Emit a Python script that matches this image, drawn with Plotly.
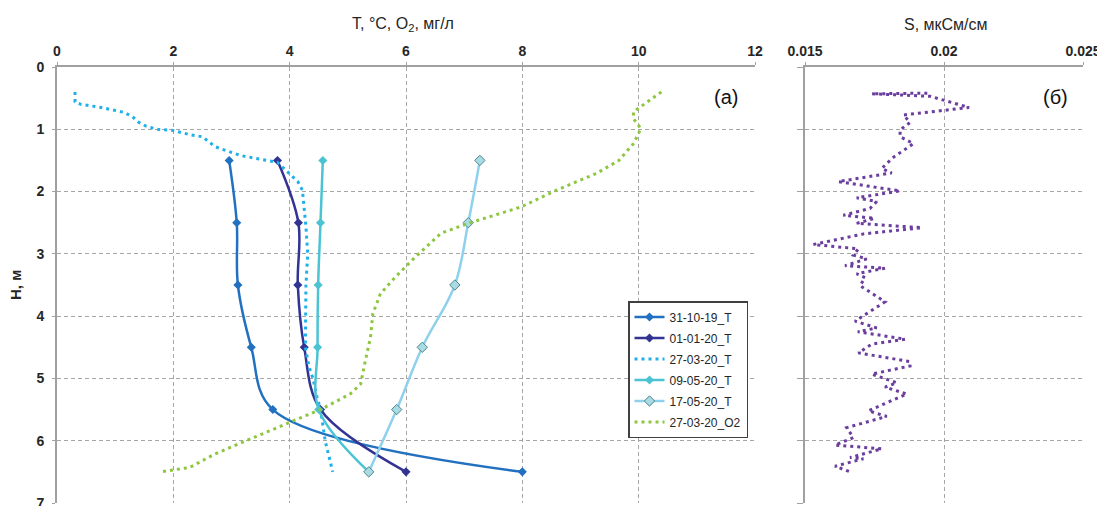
import plotly.graph_objects as go

# ---------------- data ----------------
depth_std = [1.5, 2.5, 3.5, 4.5, 5.5, 6.5]
t_311019 = [2.96, 3.09, 3.11, 3.34, 3.71, 8.00]
t_010120 = [3.79, 4.15, 4.14, 4.25, 4.53, 6.00]
t_090520 = [4.57, 4.53, 4.49, 4.48, 4.50, 5.36]
t_170520 = [7.27, 7.07, 6.84, 6.28, 5.84, 5.36]

t_270320_x = [0.31, 0.31, 0.41, 0.76, 1.16, 1.30, 1.39, 1.53, 1.73, 2.00, 2.30, 2.50,
              2.72, 3.15, 3.79, 4.14, 4.22, 4.28, 4.31, 4.28, 4.27, 4.33, 4.40, 4.47,
              4.53, 4.61, 4.74]
t_270320_h = [0.40, 0.56, 0.60, 0.65, 0.73, 0.80, 0.88, 0.95, 1.00, 1.02, 1.09, 1.12,
              1.28, 1.42, 1.53, 1.84, 1.98, 2.57, 3.00, 3.50, 4.50, 4.80, 5.00, 5.30,
              5.50, 6.00, 6.50]

o2_270320_x = [10.39, 9.91, 9.91, 10.04, 9.91, 9.66, 9.27, 8.58, 7.97, 7.07, 6.60, 6.16,
               5.82, 5.56, 5.43, 5.39, 5.30, 5.22, 5.04, 4.53, 4.09, 3.32, 2.72, 2.28, 1.77]
o2_270320_h = [0.40, 0.72, 0.83, 0.99, 1.23, 1.50, 1.71, 1.98, 2.25, 2.51, 2.67, 3.05,
               3.37, 3.64, 3.96, 4.34, 4.72, 5.09, 5.25, 5.50, 5.67, 5.97, 6.21, 6.43, 6.50]

s_h = [0.42, 0.43, 0.47, 0.65, 0.77, 0.89, 1.01, 1.12, 1.23, 1.34, 1.45, 1.55, 1.63,
       1.70, 1.84, 1.99, 2.10, 2.16, 2.27, 2.38, 2.43, 2.51, 2.58, 2.68, 2.85, 2.92,
       3.02, 3.08, 3.19, 3.23, 3.32, 3.38, 3.51, 3.77, 3.92, 4.08, 4.19, 4.25, 4.37,
       4.45, 4.59, 4.73, 4.80, 4.93, 5.07, 5.14, 5.25, 5.52, 5.61, 5.79, 5.95, 6.07,
       6.13, 6.27, 6.29, 6.41, 6.51]
s_val = [0.0194, 0.0174, 0.0195, 0.0209, 0.01854, 0.01878, 0.01842, 0.01842, 0.0189,
         0.01854, 0.01818, 0.01794, 0.01776, 0.01812, 0.0162, 0.01842, 0.01686, 0.01758,
         0.01734, 0.01638, 0.0175, 0.01686, 0.0192, 0.0171, 0.0153, 0.01692, 0.01674,
         0.01722, 0.01644, 0.01788, 0.01686, 0.01716, 0.01698, 0.01788, 0.01734, 0.0168,
         0.01758, 0.0169, 0.0186, 0.0174, 0.01692, 0.01878, 0.01878, 0.0174, 0.0183,
         0.01788, 0.01866, 0.01728, 0.01794, 0.0165, 0.01674, 0.01608, 0.01776, 0.01662,
         0.0171, 0.01608, 0.01668]

t_ticks = [0, 2, 4, 6, 8, 10, 12]
s_ticks = [0.015, 0.02, 0.025]
s_ticktext = ["0.015", "0.02", "0.025"]
h_ticks = [0, 1, 2, 3, 4, 5, 6, 7]

# ---------------- figure ----------------
FONT = "Liberation Sans, Arial, sans-serif"
W, H = 1105, 506
OFF = 8  # page body margin offset


def px_x(p):
    return (p - OFF) / W


def px_y(p):
    return 1 - (p - OFF) / H


fig = go.Figure()

fig.add_trace(go.Scatter(x=t_311019, y=depth_std, name="31-10-19_T", mode="lines+markers",
                         legendgroup="g1",
                         line=dict(color="#2270c0", width=2.5, shape="spline"),
                         marker=dict(symbol="diamond", size=7, color="#2270c0")))
fig.add_trace(go.Scatter(x=t_010120, y=depth_std, name="01-01-20_T", mode="lines+markers",
                         legendgroup="g2",
                         line=dict(color="#333392", width=2.5, shape="spline"),
                         marker=dict(symbol="diamond", size=7, color="#333392")))
fig.add_trace(go.Scatter(x=t_270320_x, y=t_270320_h, name="27-03-20_T", mode="lines",
                         legendgroup="g3",
                         line=dict(color="#1fb0ea", width=3, dash="3px,4px")))
fig.add_trace(go.Scatter(x=t_090520, y=depth_std, name="09-05-20_T", mode="lines+markers",
                         legendgroup="g4",
                         line=dict(color="#4cc3d3", width=2.5, shape="spline"),
                         marker=dict(symbol="diamond", size=7, color="#4cc3d3")))
fig.add_trace(go.Scatter(x=t_170520, y=depth_std, name="17-05-20_T", mode="lines+markers",
                         legendgroup="g5",
                         line=dict(color="#8fd1ec", width=2.5, shape="spline"),
                         marker=dict(symbol="diamond", size=8, color="#a8dbe2",
                                     line=dict(color="#4f8592", width=1))))
fig.add_trace(go.Scatter(x=o2_270320_x, y=o2_270320_h, name="27-03-20_O2", mode="lines",
                         legendgroup="g6",
                         line=dict(color="#8dc63f", width=3, dash="3px,4px")))
fig.add_trace(go.Scatter(x=s_val, y=s_h, name="S", mode="lines", showlegend=False,
                         xaxis="x2", yaxis="y2",
                         line=dict(color="#6a3d9e", width=3, dash="3px,4px")))

grid = dict(showgrid=True, gridcolor="#a6a6a6", griddash="4px,3px", gridwidth=1,
            automargin=False)
tickfont = dict(family=FONT, size=14, color="#262626", weight="bold")

fig.update_layout(
    width=W, height=H,
    margin=dict(l=0, r=0, t=0, b=0, autoexpand=False),
    paper_bgcolor="white", plot_bgcolor="white",
    showlegend=True,
    legend=dict(x=px_x(628), y=px_y(301), xanchor="left", yanchor="top",
                bgcolor="white", bordercolor="#404040", borderwidth=1.5,
                font=dict(family=FONT, size=12, color="#262626"),
                traceorder="grouped", tracegroupgap=2, itemwidth=30),
    xaxis=dict(domain=[px_x(57), px_x(755)], range=[0, 12], side="top",
               tickvals=t_ticks, ticks="outside", ticklen=3, tickcolor="#a0a0a0",
               showline=True, linecolor="#a0a0a0", linewidth=2, zeroline=False,
               tickfont=tickfont, anchor="y", **grid),
    yaxis=dict(domain=[px_y(503), px_y(67)], range=[7, 0],
               tickvals=h_ticks, ticks="outside", ticklen=3, tickcolor="#a0a0a0",
               showline=True, linecolor="#a0a0a0", linewidth=2, zeroline=False,
               ticklabelstandoff=5,
               tickfont=tickfont, anchor="x", **grid),
    xaxis2=dict(domain=[px_x(805), px_x(1083)], range=[0.015, 0.025], side="top",
                tickvals=s_ticks, ticktext=s_ticktext, ticks="outside", ticklen=3,
                tickcolor="#a0a0a0", showline=True, linecolor="#a0a0a0", linewidth=2,
                zeroline=False, tickfont=tickfont, anchor="y2", **grid),
    yaxis2=dict(domain=[px_y(503), px_y(67)], range=[7, 0],
                tickvals=h_ticks, showticklabels=False, ticks="outside", ticklen=6,
                tickcolor="#a0a0a0", showline=True, linecolor="#a0a0a0", linewidth=2,
                zeroline=False, anchor="x2", **grid),
)

# axis titles and panel labels
common = dict(xref="paper", yref="paper", showarrow=False, xanchor="center",
              yanchor="middle")
fig.add_annotation(text="T, °C, O<sub>2</sub>, мг/л", x=px_x(403), y=px_y(24),
                   font=dict(family=FONT, size=16, color="#262626"), **common)
fig.add_annotation(text="S, мкСм/см", x=px_x(946), y=px_y(24),
                   font=dict(family=FONT, size=16, color="#262626"), **common)
fig.add_annotation(text="H, м", textangle=-90, x=px_x(15), y=px_y(285),
                   font=dict(family=FONT, size=15, color="#262626", weight="bold"),
                   **common)
fig.add_annotation(text="(a)", x=px_x(726), y=px_y(97),
                   font=dict(family=FONT, size=20, color="#111111"), **common)
fig.add_annotation(text="(б)", x=px_x(1055), y=px_y(97),
                   font=dict(family=FONT, size=20, color="#111111"), **common)

fig.write_html("out.html")
